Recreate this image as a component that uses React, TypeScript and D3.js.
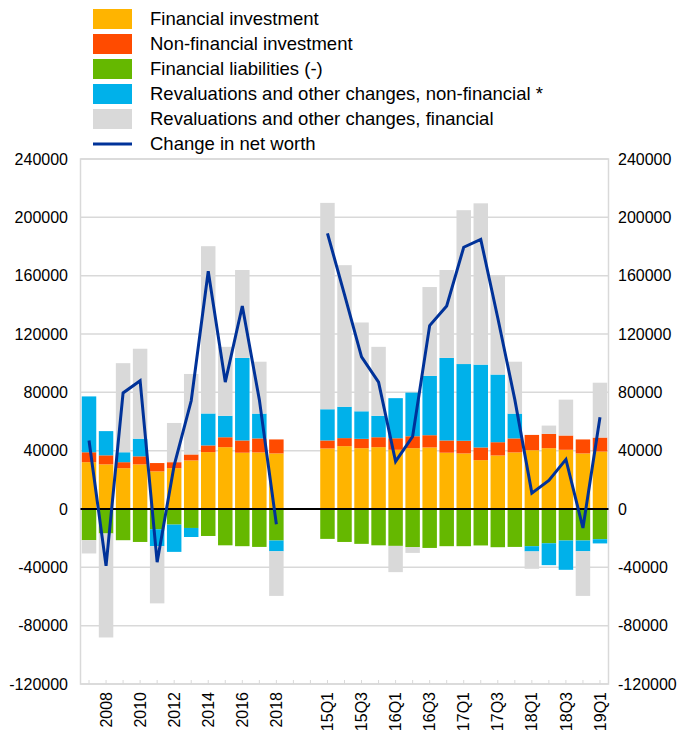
import * as d3 from "d3";

// annual 2007-2018, two empty slots, then quarterly 15Q1-19Q1
const periods = [
  "2007", "2008", "2009", "2010", "2011", "2012", "2013", "2014", "2015", "2016", "2017", "2018",
  "", "",
  "15Q1", "15Q2", "15Q3", "15Q4", "16Q1", "16Q2", "16Q3", "16Q4",
  "17Q1", "17Q2", "17Q3", "17Q4", "18Q1", "18Q2", "18Q3", "18Q4", "19Q1",
];
const tickLabels = [
  "2008", "2010", "2012", "2014", "2016", "2018",
  "15Q1", "15Q3", "16Q1", "16Q3", "17Q1", "17Q3", "18Q1", "18Q3", "19Q1",
];
const yTicks = [-120000, -80000, -40000, 0, 40000, 80000, 120000, 160000, 200000, 240000];

const finInv = [
  32100, 30600, 28000, 30600, 25800, 28000, 33300, 39000, 42400, 38600, 38800, 38100,
  null, null,
  41500, 43100, 41700, 42400, 40600, 41700, 42200, 38600,
  38100, 33500, 36700, 38800, 40300, 41700, 40600, 38100, 39400,
];
const nonFinInv = [
  6800, 6200, 4100, 5500, 5700, 4100, 4100, 4600, 6800, 8400, 9600, 9600,
  null, null,
  5500, 5500, 6400, 6800, 7900, 8200, 8400, 8400,
  8700, 8700, 9100, 9600, 10500, 9800, 9800, 9600, 9600,
];
const finLiab = [
  -21400, -16800, -21400, -22600, -13900, -10700, -13000, -18500, -24900, -25500, -26000, -21600,
  null, null,
  -20500, -22600, -23900, -24900, -25300, -26200, -26700, -25500,
  -25500, -25000, -26200, -26000, -25500, -23500, -21600, -21600, -20700,
];
const revalNonFin = [
  38300, 16600, 6800, 12100, -11600, -18700, -6200, 21900, 14700, 56600, 17000, -7400,
  null, null,
  21400, 21500, 18900, 14700, 27500, 29900, 40700, 56600,
  52600, 56800, 46400, 17000, -3600, -15000, -20100, -7400, -2900,
];
const revalFin = [
  -9100, -71300, 61100, 61700, -39200, 26900, 55200, 114700, 47300, 60300, 35600, -30600,
  null, null,
  141500, 97100, 60900, 47300, -18000, -3900, 60900, 60300,
  105500, 110600, 68200, 35600, -11900, 5700, 24600, -30600, 37600,
];
const netWorth = [
  47000, -39000, 79600, 88000, -36500, 30000, 74200, 163000, 87000, 139200, 75000, -10500,
  null, null,
  189000, 147000, 104300, 87000, 32600, 49700, 125800, 139200,
  179500, 184900, 131000, 75000, 10900, 19600, 34000, -13000, 62900,
];

const series = [
  { name: "Financial investment", values: finInv, color: "#FFB400" },
  { name: "Non-financial investment", values: nonFinInv, color: "#FF4B00" },
  { name: "Financial liabilities (-)", values: finLiab, color: "#65B800" },
  { name: "Revaluations and other changes, non-financial *", values: revalNonFin, color: "#00B1EA" },
  { name: "Revaluations and other changes, financial", values: revalFin, color: "#D9D9D9" },
];
const lineName = "Change in net worth";
const lineColor = "#003299";

const W = 698;
const H = 735;
const plot = { left: 80.5, right: 608.5, top: 159, bottom: 684 };
const font = "'Liberation Sans', Arial, sans-serif";

export default function App() {
  const keys = periods.map((_, i) => String(i));
  const x = d3
    .scaleBand<string>()
    .domain(keys)
    .range([plot.left, plot.right])
    .paddingInner(0.15)
    .paddingOuter(0.075);
  const y = d3.scaleLinear().domain([-120000, 240000]).range([plot.bottom, plot.top]);

  const rows = periods.map((_, i) => {
    const r: Record<string, number> = {};
    series.forEach((s, j) => (r["s" + j] = s.values[i] ?? 0));
    return r;
  });
  const stacked = d3
    .stack<Record<string, number>>()
    .keys(series.map((_, j) => "s" + j))
    .offset(d3.stackOffsetDiverging)(rows);

  const cx = (i: number) => (x(String(i)) ?? 0) + x.bandwidth() / 2;
  const line = d3
    .line<number | null>()
    .defined((d) => d != null)
    .x((_, i) => cx(i))
    .y((d) => y(d as number));

  return (
    <svg
      width={W}
      height={H}
      style={{ position: "absolute", left: 0, top: 0, background: "#fff" }}
      fontFamily={font}
    >
      {/* legend */}
      {series.map((s, j) => (
        <g key={s.name} transform={`translate(0, ${19 + j * 25})`}>
          <rect x={93} y={-10} width={39} height={20} fill={s.color} />
          <text x={150} dy="0.35em" fontSize={18.5} fill="#000">
            {s.name}
          </text>
        </g>
      ))}
      <g transform={`translate(0, ${19 + 5 * 25})`}>
        <line x1={93} x2={132} stroke={lineColor} strokeWidth={3} />
        <text x={150} dy="0.35em" fontSize={18.5} fill="#000">
          {lineName}
        </text>
      </g>

      {/* grid */}
      {yTicks.map((t) => (
        <line key={t} x1={plot.left} x2={plot.right} y1={y(t)} y2={y(t)} stroke="#d9d9d9" strokeWidth={1.5} />
      ))}
      <rect
        x={plot.left}
        y={plot.top}
        width={plot.right - plot.left}
        height={plot.bottom - plot.top}
        fill="none"
        stroke="#d9d9d9"
        strokeWidth={1.5}
      />

      {/* bars */}
      {stacked.map((layer, j) => (
        <g key={layer.key} fill={series[j].color}>
          {layer.map((d, i) =>
            d[1] - d[0] === 0 ? null : (
              <rect
                key={i}
                x={x(String(i))}
                width={x.bandwidth()}
                y={y(Math.max(d[0], d[1]))}
                height={Math.abs(y(d[0]) - y(d[1]))}
              />
            )
          )}
        </g>
      ))}

      {/* zero line */}
      <line x1={plot.left} x2={plot.right} y1={y(0)} y2={y(0)} stroke="#000" strokeWidth={2} />

      {/* net worth line */}
      <path d={line(netWorth) ?? ""} fill="none" stroke={lineColor} strokeWidth={3} strokeLinejoin="miter" />

      {/* x ticks */}
      {keys.map((k, i) => (
        <line key={k} x1={cx(i)} x2={cx(i)} y1={plot.bottom} y2={plot.bottom - 4} stroke="#d9d9d9" strokeWidth={1} />
      ))}
      {periods.map((p, i) =>
        tickLabels.includes(p) ? (
          <text
            key={p}
            transform={`translate(${cx(i)}, ${plot.bottom + 8}) rotate(-90)`}
            textAnchor="end"
            dy="0.35em"
            fontSize={16}
            fill="#000"
          >
            {p}
          </text>
        ) : null
      )}

      {/* y labels */}
      {yTicks.map((t) => (
        <g key={t}>
          <text x={68} y={y(t)} dy="0.35em" textAnchor="end" fontSize={16} fill="#000">
            {t}
          </text>
          <text x={618} y={y(t)} dy="0.35em" textAnchor="start" fontSize={16} fill="#000">
            {t}
          </text>
        </g>
      ))}
    </svg>
  );
}
